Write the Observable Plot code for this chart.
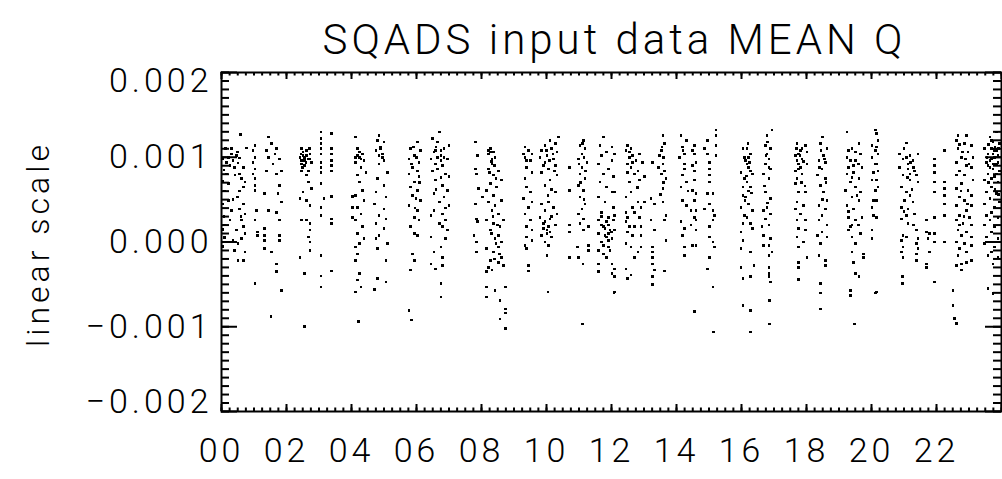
<!DOCTYPE html>
<html>
<head>
<meta charset="utf-8">
<script src="https://cdn.jsdelivr.net/npm/d3@7"></script>
<script src="https://cdn.jsdelivr.net/npm/@observablehq/plot@0.6"></script>
<style>
  html, body { margin: 0; padding: 0; background: #fff; }
  #chart svg { display: block; }
  #chart svg text { font-family: Roboto, 'Open Sans', sans-serif; font-weight: 300; fill: #000; letter-spacing: 4px; }
  #chart svg g[aria-label="x-axis"] text { font-size: 34px; }
</style>
</head>
<body>
<div id="chart"></div>
<script>
// ---- Chart text ----
const titleText = "SQADS input data MEAN Q";
const yAxisTitle = "linear scale";

// ---- Axis ticks ----
const xMajorTicks = [0, 2, 4, 6, 8, 10, 12, 14, 16, 18, 20, 22, 24];
const xTickLabels = [0, 2, 4, 6, 8, 10, 12, 14, 16, 18, 20, 22];
const yMajorTicks = [-0.002, -0.001, 0, 0.001, 0.002];
const yInnerLabels = [-0.001, 0, 0.001];
const yTopLabel = [0.002];
const yBottomLabel = [-0.002];

// ---- Data: [hour of day (UT), MEAN Q in units of 1e-5], one array per orbit pass ----
const Q_UNIT = 1e-5;
const pass01 = [[.59,127],[.77,111],[.49,106],[.31,104],[.46,102],[.21,100],[.56,99],[.36,96],[.15,94],[.51,93],[.26,90],[.67,88],[.56,80],[.41,79],[.62,75],[.72,71],[.21,69],[.67,65],[.49,53],[.21,49],[.67,45],[.56,39],[.31,37],[.72,33],[.62,26],[.67,18],[.46,14],[.72,10],[.62,4],[.36,2],[.51,-2],[.72,-12],[.51,-22],[.67,-22],[.26,26],[.15,80],[.05,98],[.08,85],[.05,72],[.1,60],[.05,45],[.08,30],[.05,15],[.1,5],[.05,-5],[.12,110],[.1,20],[.3,110],[.4,88],[.55,60],[.35,50],[.6,30],[.4,-10]];
const pass02 = [[1.03,114],[.97,108],[1.03,100],[.97,94],[1.03,86],[.97,80],[1.03,75],[1.03,67],[1.03,61],[1.08,37],[1.03,26],[1.11,12],[1.11,8],[1.03,-49]];
const pass03 = [[1.44,124],[1.54,116],[1.38,108],[1.69,110],[1.64,104],[1.79,98],[1.44,100],[1.59,92],[1.85,84],[1.38,84],[1.69,80],[1.79,67],[1.33,57],[1.74,57],[1.85,47],[1.44,37],[1.69,35],[1.79,26],[1.33,16],[1.33,8],[1.79,8],[1.33,2],[1.79,2],[1.33,-8],[1.54,-12],[1.69,-26],[1.69,-35],[1.85,-57],[1.52,-88]];
const pass04 = [[2.46,110],[2.62,108],[2.72,104],[2.51,102],[2.41,100],[2.67,98],[2.56,96],[2.77,94],[2.46,92],[2.67,84],[2.46,84],[2.62,79],[2.67,71],[2.51,59],[2.77,63],[2.41,51],[2.62,49],[2.72,43],[2.46,26],[2.62,26],[2.72,22],[2.72,14],[2.67,6],[2.72,0],[2.72,-10],[2.41,-18],[2.56,-37],[2.56,-100],[2.51,106],[2.56,100],[2.62,102],[2.46,96],[2.72,98],[2.56,90],[2.45,104],[2.6,94],[2.7,110],[2.5,88]];
const pass05 = [[3.06,130],[3.06,122],[3.06,116],[3.06,110],[3.06,104],[3.06,94],[3.06,88],[3.06,82],[3.06,69],[3.16,51],[3.06,41],[3.06,31],[3.06,-16],[3.06,-40],[3.06,-53]];
const pass06 = [[3.38,128],[3.38,110],[3.38,104],[3.38,96],[3.38,90],[3.38,84],[3.38,54],[3.38,27],[3.38,22],[3.38,-34]];
const pass07 = [[4.03,54],[4.03,41],[4.03,29],[4.13,124],[4.18,110],[4.34,104],[4.24,100],[4.13,94],[4.39,96],[4.29,88],[4.44,82],[4.18,79],[4.24,71],[4.34,61],[4.13,55],[4.39,49],[4.18,41],[4.29,33],[4.13,26],[4.34,18],[4.18,10],[4.39,4],[4.24,-2],[4.13,-6],[4.18,-14],[4.13,-22],[4.24,-37],[4.18,-45],[4.29,-53],[4.13,-59],[4.21,-94],[4.24,106],[4.18,102],[4.29,98],[4.13,100]];
const pass08 = [[4.85,126],[4.80,120],[5.0,118],[4.9,112],[4.75,108],[4.95,104],[5.0,96],[4.85,92],[5.11,82],[4.8,75],[5.0,67],[4.75,59],[5.06,53],[4.7,45],[5.0,39],[4.85,31],[5.06,27],[4.75,22],[5.0,16],[4.85,8],[4.75,4],[5.11,-2],[4.8,-8],[5.06,-22],[4.8,-43],[5.06,-47],[4.7,-56],[4.9,110],[4.95,100],[4.85,102]];
const pass09 = [[6.03,118],[5.82,110],[6.13,108],[5.93,102],[5.77,98],[6.08,94],[5.88,88],[6.03,84],[5.77,80],[6.08,77],[5.93,71],[5.82,65],[6.03,61],[5.88,55],[5.98,51],[6.13,49],[5.77,43],[6.03,37],[5.93,29],[6.08,26],[5.82,18],[5.93,10],[6.03,8],[5.88,-14],[5.93,-22],[5.82,-33],[5.77,-81],[5.85,-92],[5.9,112],[6.0,100],[5.85,92],[6.1,70],[5.95,40]];
const pass10 = [[6.7,130],[6.49,122],[6.65,118],[7.0,114],[6.85,110],[6.54,106],[6.75,102],[6.44,98],[6.95,98],[6.59,92],[6.8,90],[6.49,84],[6.9,80],[7.0,77],[6.59,73],[6.8,67],[6.95,61],[6.54,57],[6.85,53],[6.7,47],[7.0,43],[6.54,37],[6.8,33],[6.44,31],[6.9,26],[6.8,18],[6.95,14],[6.44,6],[6.9,4],[6.75,-6],[6.54,-12],[6.8,-18],[6.44,-26],[6.8,-28],[6.59,-32],[6.75,-49],[6.75,-65],[6.65,100],[6.75,96],[6.59,108],[6.6,112],[6.75,108],[6.85,100],[6.65,86],[6.75,76],[6.6,62],[6.9,40],[6.7,22]];
const pass11 = [[7.82,118],[7.88,102],[7.82,86],[7.85,80],[7.9,63],[8.03,53],[7.82,45],[7.85,27],[7.88,24],[7.77,8],[7.85,0],[7.85,-12]];
const pass12 = [[8.27,110],[8.37,106],[8.21,104],[8.42,100],[8.32,92],[8.21,86],[8.52,84],[8.37,79],[8.62,73],[8.27,69],[8.16,61],[8.47,65],[8.37,55],[8.62,49],[8.21,47],[8.42,43],[8.32,37],[8.52,33],[8.16,26],[8.68,26],[8.37,22],[8.57,18],[8.27,14],[8.52,8],[8.42,4],[8.62,0],[8.16,-8],[8.52,-6],[8.37,-12],[8.62,-18],[8.27,-22],[8.52,-24],[8.68,-28],[8.21,-30],[8.16,-35],[8.32,-33],[8.16,-53],[8.42,-57],[8.73,-53],[8.16,-65],[8.57,-69],[8.73,-79],[8.73,-84],[8.57,-91],[8.73,-102],[8.27,106],[8.21,108],[8.32,98],[8.3,95],[8.4,90],[8.25,82],[8.45,75],[8.35,30],[8.5,20],[8.3,10],[8.45,-2],[8.55,-14],[8.4,-20]];
const pass13 = [[9.34,112],[9.44,108],[9.55,104],[9.34,100],[9.5,96],[9.39,88],[9.55,82],[9.34,75],[9.39,65],[9.5,59],[9.29,51],[9.55,47],[9.44,41],[9.34,33],[9.5,26],[9.39,18],[9.55,14],[9.39,6],[9.34,-4],[9.39,-8],[9.44,-28],[9.44,-34],[9.55,2],[9.29,104],[9.39,96]];
const pass14 = [[10.37,124],[10.11,120],[10.27,116],[9.96,114],[10.16,110],[9.85,108],[10.32,106],[10.01,102],[9.8,100],[10.21,98],[9.96,94],[10.27,90],[10.06,86],[9.85,82],[10.32,79],[10.11,73],[9.96,67],[10.27,59],[9.85,45],[10.06,47],[10.21,41],[9.96,37],[10.32,33],[9.8,29],[10.11,27],[9.9,22],[10.27,20],[10.01,14],[9.85,8],[10.16,6],[9.96,0],[10.06,-4],[10.01,-16],[10.04,-59],[10.01,10],[9.9,16],[10.11,12],[9.96,24],[10.16,30],[10.06,18],[10.0,108],[10.2,104],[10.1,96],[10.25,84],[9.9,90],[10.15,62],[10.05,55]];
const pass15 = [[10.7,88],[10.7,61],[10.7,20],[10.7,12],[10.7,-18]];
const pass16 = [[11.14,120],[11.03,114],[11.19,110],[11.09,104],[10.98,98],[11.24,94],[11.09,88],[11.03,80],[11.19,75],[10.98,67],[11.14,61],[11.03,53],[11.19,45],[11.09,39],[10.98,33],[11.14,27],[11.03,22],[11.29,18],[11.14,14],[10.96,-6],[10.98,-18],[11.12,-26],[11.29,-4],[11.29,-10],[11.11,-97],[11.1,116],[11.15,100],[11.0,92],[11.2,84],[11.05,70],[11.15,50]];
const pass17 = [[11.75,124],[11.65,114],[12.01,112],[11.85,106],[11.7,102],[12.01,96],[11.6,92],[11.91,86],[11.75,80],[12.06,77],[11.65,71],[11.85,65],[12.01,59],[11.6,53],[11.8,47],[12.06,41],[11.7,35],[11.91,29],[11.6,26],[12.06,26],[11.75,18],[11.96,14],[11.6,10],[11.85,6],[12.01,4],[11.7,0],[11.91,-6],[11.6,-10],[11.75,-14],[11.6,-26],[12.01,-26],[11.6,-35],[12.01,-37],[12.08,-60],[11.8,16],[11.91,10],[11.7,20],[11.85,24],[12.09,31],[12.09,14],[12.09,-32],[12.09,-41],[12.09,-59],[12.09,59],[12.09,104],[11.8,8],[11.9,2],[11.75,-4],[11.95,-10],[11.85,-18],[12.0,12],[11.7,30],[11.9,20]];
const pass18 = [[12.5,114],[12.45,108],[12.6,110],[12.55,100],[12.5,92],[12.86,104],[12.65,94],[12.96,94],[12.81,84],[12.5,82],[12.71,80],[13.01,77],[12.55,71],[12.86,73],[12.6,59],[12.45,53],[12.81,47],[13.01,47],[12.65,41],[12.91,41],[12.45,35],[12.5,29],[12.86,29],[12.45,24],[12.71,18],[12.91,18],[12.5,12],[12.65,8],[12.91,8],[12.45,-2],[12.6,-6],[12.91,-6],[12.81,-12],[12.71,-18],[12.45,-32],[12.6,-39],[12.5,-43],[12.55,106],[12.65,102],[12.75,96],[12.6,88],[12.8,64],[12.7,35],[12.55,18]];
const pass19 = [[13.58,126],[13.63,116],[13.53,108],[13.47,102],[13.27,94],[13.58,92],[13.63,84],[13.53,80],[13.68,75],[13.58,63],[13.22,51],[13.58,47],[13.32,45],[13.68,31],[13.22,26],[13.63,26],[13.32,14],[13.68,2],[13.27,-6],[13.27,-12],[13.27,-18],[13.27,-26],[13.32,-33],[13.27,-41],[13.27,-50],[13.63,-34],[13.55,112],[13.6,100],[13.45,88],[13.6,70],[13.5,56]];
const pass20 = [[14.14,126],[14.3,120],[14.19,112],[14.09,100],[14.24,104],[14.55,114],[14.55,104],[14.6,94],[14.55,84],[14.24,86],[14.19,79],[14.3,71],[14.55,73],[14.14,65],[14.5,61],[14.6,57],[14.19,49],[14.55,49],[14.3,43],[14.45,37],[14.6,37],[14.55,29],[14.14,24],[14.6,26],[14.24,16],[14.6,14],[14.19,8],[14.5,-4],[14.6,-4],[14.24,-6],[14.24,-16],[14.55,-82],[14.2,108],[14.5,108],[14.25,92],[14.5,90],[14.35,60],[14.45,20]];
const pass21 = [[15.22,132],[15.22,126],[14.96,120],[15.22,114],[14.86,110],[15.22,102],[14.96,104],[15.01,94],[15.01,86],[15.01,79],[15.01,71],[14.96,57],[15.12,57],[15.01,45],[14.86,39],[15.12,37],[15.17,31],[15.12,26],[15.01,18],[15.01,6],[15.12,0],[15.17,-6],[15.01,-18],[14.96,-32],[15.12,-53],[15.14,-106]];
const pass22 = [[16.04,110],[16.09,100],[15.99,82],[16.09,75],[16.04,65],[16.04,55],[15.99,41],[16.09,31],[16.04,22],[15.99,12],[16.04,2],[15.99,-8],[15.99,-30],[16.04,-43],[16.04,-75],[16.11,96],[16.11,49],[16.17,110],[16.27,104],[16.12,96],[16.22,88],[16.33,80],[16.17,71],[16.27,65],[16.12,53],[16.22,45],[16.33,37],[16.17,29],[16.27,22],[16.33,16],[16.27,-12],[16.38,-28],[16.27,-41],[16.27,-81],[16.27,-106],[16.22,100],[16.17,92],[16.27,84],[16.22,60],[16.2,116],[16.25,94],[16.15,78],[16.3,58]];
const pass23 = [[16.94,132],[16.79,126],[16.74,114],[16.89,110],[16.79,104],[16.84,98],[16.74,92],[16.89,86],[16.68,80],[16.84,75],[16.74,59],[16.89,51],[16.79,41],[16.68,37],[16.89,33],[16.74,27],[16.84,20],[16.63,18],[16.68,8],[16.89,4],[16.68,-4],[16.84,-4],[16.94,-12],[16.84,-16],[16.84,-30],[16.84,-37],[16.84,-41],[16.89,-47],[16.86,-69],[16.86,-97],[16.8,118],[16.75,102],[16.85,88],[16.7,66],[16.8,46]];
const pass24 = [[17.71,116],[17.97,114],[17.81,108],[18.02,106],[17.66,102],[17.86,98],[17.76,92],[18.02,92],[17.66,84],[17.86,80],[17.71,75],[17.66,69],[17.76,59],[17.97,59],[17.71,47],[17.91,43],[17.66,39],[17.81,33],[17.71,26],[17.97,26],[17.76,16],[17.97,14],[17.71,6],[17.91,0],[17.76,-6],[18.02,-18],[17.76,-24],[17.76,-30],[17.76,-44],[17.76,104],[17.86,110],[17.71,96],[17.81,88],[17.7,110],[17.8,102],[17.9,95],[17.75,86],[17.85,70],[17.95,66]];
const pass25 = [[18.5,124],[18.43,116],[18.63,110],[18.53,102],[18.38,96],[18.58,94],[18.48,86],[18.33,79],[18.58,75],[18.43,67],[18.53,59],[18.63,49],[18.38,43],[18.58,39],[18.48,31],[18.38,26],[18.63,20],[18.48,12],[18.33,8],[18.63,6],[18.43,-2],[18.38,-16],[18.58,-22],[18.58,-28],[18.43,-49],[18.43,-60],[18.43,-79],[18.45,108],[18.55,98],[18.4,88],[18.6,70],[18.5,50]];
const pass26 = [[19.25,130],[19.61,116],[19.4,110],[19.66,104],[19.25,100],[19.5,96],[19.3,88],[19.71,88],[19.45,82],[19.25,80],[19.61,75],[19.35,71],[19.5,65],[19.2,61],[19.66,59],[19.4,53],[19.61,49],[19.25,43],[19.45,39],[19.71,29],[19.3,29],[19.5,26],[19.35,18],[19.66,10],[19.4,6],[19.5,-2],[19.4,-12],[19.76,-14],[19.45,-24],[19.76,-18],[19.5,-37],[19.61,-41],[19.35,-57],[19.35,-63],[19.48,-97],[19.35,96],[19.45,90],[19.4,20],[19.3,14],[19.3,108],[19.5,106],[19.6,92],[19.4,76],[19.55,55],[19.3,36],[19.6,20]];
const pass27 = [[20.12,132],[20.02,114],[20.12,108],[20.02,100],[20.12,92],[20.07,82],[20.02,73],[20.12,61],[20.07,49],[20.02,41],[20.07,31],[20.02,14],[20.02,4],[20.12,-60],[20.15,128],[20.2,120],[20.15,112],[20.2,104],[20.15,92],[20.2,84],[20.15,73],[20.2,65],[20.15,49],[20.15,29],[20.15,-59]];
const pass28 = [[21.07,117],[20.87,104],[21.18,102],[21.43,104],[20.97,98],[21.28,96],[20.87,88],[21.12,86],[21.33,84],[21.38,79],[20.97,79],[21.18,73],[21.43,71],[20.92,65],[21.07,59],[21.18,55],[21.02,49],[21.28,47],[20.92,41],[21.12,39],[21.33,33],[21.07,31],[20.92,27],[21.12,22],[21.38,14],[20.97,8],[21.07,6],[21.43,4],[20.92,2],[21.38,-2],[20.97,-6],[21.43,-8],[20.92,-12],[21.38,-14],[21.38,-22],[20.97,-18],[20.95,-41],[20.95,-49],[21.12,92],[21.18,80],[21.07,100],[21.0,110],[21.2,94],[21.3,88],[21.1,76],[21.25,62],[21.0,36],[21.3,20]];
const pass29 = [[21.69,26],[21.69,12],[21.79,10],[21.74,4],[21.79,-12],[21.94,10],[21.94,0],[21.69,-26],[21.69,-30],[21.94,98],[21.94,90],[21.94,82],[21.94,71],[21.94,59],[21.94,29],[21.94,-47],[22.25,108],[22.25,71],[22.25,63],[22.25,55],[22.25,45],[22.25,31],[22.25,0]];
const pass30 = [[22.66,126],[22.92,126],[22.61,120],[22.87,116],[23.07,114],[22.66,110],[22.97,106],[22.77,100],[23.12,100],[22.61,94],[22.92,90],[23.07,88],[22.71,84],[22.61,79],[22.87,79],[23.12,73],[22.77,69],[22.61,63],[22.97,61],[23.07,55],[22.71,53],[22.87,49],[22.61,43],[23.07,43],[22.92,37],[22.71,31],[23.02,29],[22.61,26],[22.82,22],[23.07,20],[22.66,14],[22.92,12],[22.77,8],[23.07,6],[22.61,0],[22.87,-2],[23.07,-4],[22.71,-8],[22.92,-12],[22.66,-16],[23.07,-22],[22.77,-26],[22.92,-24],[22.61,-28],[22.77,-33],[22.51,-57],[22.51,-75],[22.56,-90],[22.61,-96],[22.7,115],[22.8,106],[22.9,98],[23.0,92],[22.75,60],[22.95,45],[22.7,20],[22.85,30]];
const pass31 = [[23.84,130],[23.64,124],[23.74,118],[23.94,116],[23.48,110],[23.79,108],[23.59,104],[23.89,102],[23.69,98],[23.53,94],[23.84,92],[23.74,86],[23.94,84],[23.59,80],[23.79,77],[23.48,73],[23.89,71],[23.69,65],[23.53,59],[23.84,57],[23.64,51],[23.94,47],[23.48,45],[23.79,41],[23.69,35],[23.53,31],[23.89,29],[23.64,26],[23.48,20],[23.79,18],[23.69,12],[23.53,6],[23.89,4],[23.48,-2],[23.79,-6],[23.69,-12],[23.59,-16],[23.89,-18],[23.74,-26],[23.59,-55],[23.74,-61],[23.69,110],[23.79,100],[23.64,96],[23.84,108],[23.74,104],[23.59,90],[23.89,94],[23.6,115],[23.7,120],[23.8,112],[23.9,110],[23.55,100],[23.65,88],[23.75,92],[23.85,80],[23.6,70],[23.7,75],[23.8,62],[23.9,56]];

const passes = [pass01, pass02, pass03, pass04, pass05, pass06, pass07, pass08, pass09, pass10,
  pass11, pass12, pass13, pass14, pass15, pass16, pass17, pass18, pass19, pass20,
  pass21, pass22, pass23, pass24, pass25, pass26, pass27, pass28, pass29, pass30, pass31];

const points = passes.flat().map(([hour, q]) => ({hour, q: q * Q_UNIT}));

const W = 1002, H = 479, ML = 221, MR = 1, MT = 72, MB = 68;
const FW = W - ML - MR, FH = H - MT - MB;   // frame size in px
const yMinorTicks = d3.ticks(-0.002, 0.002, 40);
const xMinorTicks = d3.range(0, 24.001, 0.25);
const Y_MAJOR_LEN = 16, Y_MINOR_LEN = 8, X_MAJOR_LEN = 7, X_MINOR_LEN = 3.5;
const fmtY = d3.format(".3f");
const yLabelStyle = {frameAnchor: "left", textAnchor: "end", dx: -9, lineAnchor: "middle", fontSize: 34, fill: "black"};

const chart = Plot.plot({
  width: W,
  height: H,
  marginLeft: ML,
  marginRight: MR,
  marginTop: MT,
  marginBottom: MB,
  style: {background: "white", color: "black", fontSize: "34px"},
  x: {domain: [0, 24], ticks: xTickLabels, tickSize: 0, tickPadding: 26,
      tickFormat: d3.format("02d"), label: null, axis: "bottom"},
  y: {domain: [-0.002, 0.002], label: null, axis: null},
  marks: [
    Plot.dot(points, {x: "hour", y: "q", symbol: "square", r: 1.45, fill: "black", shapeRendering: "crispEdges"}),
    // inward ticks on all four sides (IDL box style)
    Plot.tickY(yMinorTicks, {y: d => d, insetRight: FW - Y_MINOR_LEN, strokeWidth: 2, stroke: "black"}),
    Plot.tickY(yMajorTicks, {y: d => d, insetRight: FW - Y_MAJOR_LEN, strokeWidth: 2, stroke: "black"}),
    Plot.tickY(yMinorTicks, {y: d => d, insetLeft: FW - Y_MINOR_LEN, strokeWidth: 2, stroke: "black"}),
    Plot.tickY(yMajorTicks, {y: d => d, insetLeft: FW - Y_MAJOR_LEN, strokeWidth: 2, stroke: "black"}),
    Plot.tickX(xMinorTicks, {x: d => d, insetTop: FH - X_MINOR_LEN, strokeWidth: 2, stroke: "black"}),
    Plot.tickX(xMajorTicks, {x: d => d, insetTop: FH - X_MAJOR_LEN, strokeWidth: 2, stroke: "black"}),
    Plot.tickX(xMinorTicks, {x: d => d, insetBottom: FH - X_MINOR_LEN, strokeWidth: 2, stroke: "black"}),
    Plot.tickX(xMajorTicks, {x: d => d, insetBottom: FH - X_MAJOR_LEN, strokeWidth: 2, stroke: "black"}),
    Plot.frame({stroke: "black", strokeWidth: 2}),
    // y tick labels (end labels sit just inside the axis range, as in the original)
    Plot.text(yInnerLabels, {...yLabelStyle, y: d => d, text: d => fmtY(d)}),
    Plot.text(yTopLabel, {...yLabelStyle, y: d => d, text: d => fmtY(d), dy: 9}),
    Plot.text(yBottomLabel, {...yLabelStyle, y: d => d, text: d => fmtY(d), dy: -9}),
    Plot.text([titleText], {frameAnchor: "top", dx: 3, dy: -19, lineAnchor: "bottom", fontSize: 42, fill: "black"}),
    Plot.text([yAxisTitle], {frameAnchor: "left", textAnchor: "middle", dx: -183, dy: 2, rotate: -90,
      lineAnchor: "middle", fontSize: 32, fill: "black"})
  ]
});
document.getElementById("chart").append(chart);
</script>
</body>
</html>
